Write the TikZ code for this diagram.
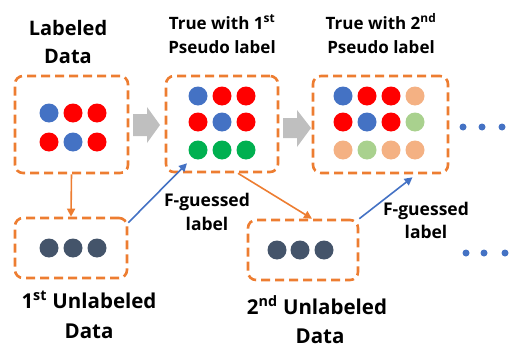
\documentclass[tikz,border=0pt]{standalone}
\usepackage{fontspec}
\setmainfont{Open Sans}
\usetikzlibrary{arrows.meta}
\definecolor{dashorange}{HTML}{ED7D31}
\definecolor{dotblue}{HTML}{4472C4}
\definecolor{dotred}{HTML}{FF0000}
\definecolor{dotgreen}{HTML}{00B050}
\definecolor{paleorange}{HTML}{F4B183}
\definecolor{palegreen}{HTML}{A9D18E}
\definecolor{slate}{HTML}{44546A}
\definecolor{flowgray}{HTML}{BFBFBF}
\tikzset{
  x=1pt, y=-1pt,
  databox/.style={draw=dashorange, line width=2.6pt, dash pattern=on 9pt off 5pt,
    rounded corners=8pt, inner sep=0pt},
  dot/.style={circle, inner sep=0pt, minimum size=19pt},
  smalldot/.style={circle, inner sep=0pt, minimum size=7pt, fill=dotblue},
  flowarrow/.style={fill=flowgray, draw=none},
  linkorange/.style={draw=dashorange, line width=1.6pt, -{Triangle[length=8pt,width=8pt]}},
  linkblue/.style={draw=dotblue, line width=1.6pt, -{Triangle[length=8pt,width=8pt]}},
  txt/.style={anchor=base, inner sep=0pt},
  bigtitle/.style={txt, font=\bfseries\fontsize{20}{24}\selectfont},
  midtitle/.style={txt, font=\bfseries\fontsize{17}{22}\selectfont},
  bottomtitle/.style={txt, font=\bfseries\fontsize{20.5}{24}\selectfont},
  guess/.style={txt, font=\bfseries\fontsize{17.5}{20}\selectfont},
}
\begin{document}
\begin{tikzpicture}
\useasboundingbox (0,0) rectangle (512,348);

% dashed data boxes
\node[databox, minimum width=113pt, minimum height=97pt] (lab) at (71.5,124.5) {};
\node[databox, minimum width=112pt, minimum height=96pt] (ps1) at (222,124) {};
\node[databox, minimum width=135pt, minimum height=97pt] (ps2) at (380.5,124.5) {};
\node[databox, minimum width=112pt, minimum height=60pt] (un1) at (71,248) {};
\node[databox, minimum width=110pt, minimum height=60pt] (un2) at (303,250) {};

% labeled data
\node[dot, fill=dotblue] (l11) at (49,113) {};
\node[dot, fill=dotred]  (l12) at (73,113) {};
\node[dot, fill=dotred]  (l13) at (97,113) {};
\node[dot, fill=dotred]  (l21) at (49,142) {};
\node[dot, fill=dotblue] (l22) at (73,142) {};
\node[dot, fill=dotred]  (l23) at (97,142) {};

% true with first pseudo labels
\node[dot, fill=dotblue]  (a11) at (198,96) {};
\node[dot, fill=dotred]   (a12) at (222,96) {};
\node[dot, fill=dotred]   (a13) at (246,96) {};
\node[dot, fill=dotred]   (a21) at (198,122) {};
\node[dot, fill=dotblue]  (a22) at (222,122) {};
\node[dot, fill=dotred]   (a23) at (246,122) {};
\node[dot, fill=dotgreen] (a31) at (198,150) {};
\node[dot, fill=dotgreen] (a32) at (222,150) {};
\node[dot, fill=dotgreen] (a33) at (246,150) {};

% true with second pseudo labels
\node[dot, fill=dotblue]    (b11) at (343,96) {};
\node[dot, fill=dotred]     (b12) at (367,96) {};
\node[dot, fill=dotred]     (b13) at (391,96) {};
\node[dot, fill=paleorange] (b14) at (415,96) {};
\node[dot, fill=dotred]     (b21) at (343,122) {};
\node[dot, fill=dotblue]    (b22) at (367,122) {};
\node[dot, fill=dotred]     (b23) at (391,122) {};
\node[dot, fill=palegreen]  (b24) at (415,122) {};
\node[dot, fill=paleorange] (b31) at (343,150) {};
\node[dot, fill=palegreen]  (b32) at (367,150) {};
\node[dot, fill=paleorange] (b33) at (391,150) {};
\node[dot, fill=paleorange] (b34) at (415,150) {};

% unlabeled data
\node[dot, fill=slate] (u11) at (49,248) {};
\node[dot, fill=slate] (u12) at (73,248) {};
\node[dot, fill=slate] (u13) at (97,248) {};
\node[dot, fill=slate] (u21) at (277,250) {};
\node[dot, fill=slate] (u22) at (300,250) {};
\node[dot, fill=slate] (u23) at (324,250) {};

% continuation dots
\node[smalldot] (c11) at (463,127) {};
\node[smalldot] (c12) at (482,127) {};
\node[smalldot] (c13) at (502,127) {};
\node[smalldot] (c21) at (466,253) {};
\node[smalldot] (c22) at (484,253) {};
\node[smalldot] (c23) at (505,253) {};

% gray flow arrows
\path[flowarrow] (133,114) -- (147,114) -- (147,107) -- (160,125) -- (147,143) -- (147,136) -- (133,136) -- cycle;
\path[flowarrow] (283,118) -- (297,118) -- (297,110) -- (311,128) -- (297,147) -- (297,138) -- (283,138) -- cycle;

% connectors
\draw[linkorange] (lab.south) -- (un1.north);
\draw[linkorange] ([xshift=16pt]ps1.south) -- ([xshift=9pt]un2.north);
\draw[linkblue] ([yshift=-6pt]un1.north east) -- ([xshift=-35pt,yshift=10pt]ps1.south);
\draw[linkblue] (un2.north east) -- ([xshift=32pt,yshift=-3pt]ps2.south);

% titles
\node[bigtitle] (t1a) at (68,35) {Labeled};
\node[bigtitle] (t1b) at (68,63) {Data};
\node[midtitle] (t2a) at (222,29) {True with 1\textsuperscript{st}};
\node[midtitle] (t2b) at (222,53) {Pseudo label};
\node[midtitle] (t3a) at (381,29) {True with 2\textsuperscript{nd}};
\node[midtitle] (t3b) at (381,53) {Pseudo label};
\node[bottomtitle] (t4a) at (89,308) {1\textsuperscript{st} Unlabeled};
\node[bottomtitle] (t4b) at (89,338) {Data};
\node[bottomtitle] (t5a) at (317,314) {2\textsuperscript{nd} Unlabeled};
\node[bottomtitle] (t5b) at (320,343) {Data};
\node[guess] (g1a) at (207,206) {F-guessed};
\node[guess] (g1b) at (207,230) {label};
\node[guess] (g2a) at (426,215) {F-guessed};
\node[guess] (g2b) at (426,238) {label};
\end{tikzpicture}
\end{document}
